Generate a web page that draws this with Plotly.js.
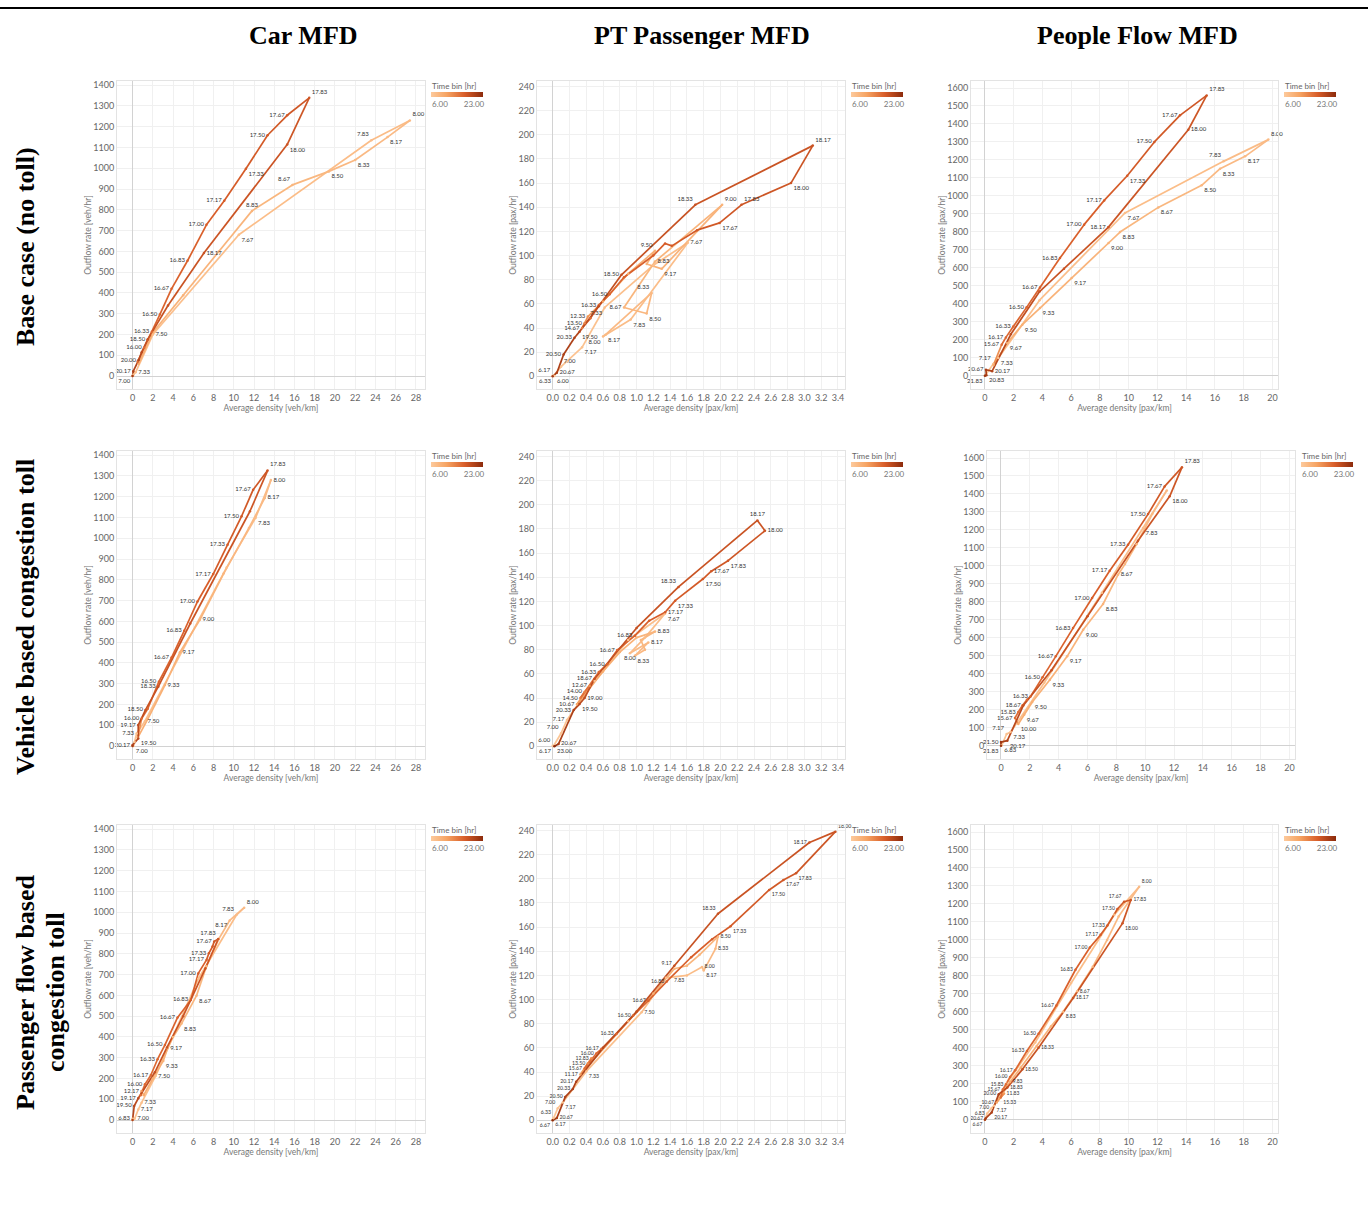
<!DOCTYPE html>
<html><head><meta charset="utf-8">
<script src="https://cdn.plot.ly/plotly-3.0.1.min.js"></script>
<style>html,body{margin:0;padding:0;background:#fff}#chart{width:1368px;height:1222px}</style>
</head><body><div id="chart"></div>
<script>
// ---------------- DATA ----------------
// Column / row titles
const colTitles = ['Car MFD', 'PT Passenger MFD', 'People Flow MFD'];
const rowTitles = [['Base case (no toll)'], ['Vehicle based congestion toll'], ['Passenger flow based', 'congestion toll']];

// Panel 1: Car MFD, base case
const carBaseT = [6.00, 7.00, 7.17, 7.33, 7.50, 7.67, 7.83, 8.00, 8.17, 8.33, 8.50, 8.67, 8.83, 9.00, 9.17, 9.50, 10.00, 15.67, 16.00, 16.17, 16.33, 16.50, 16.67, 16.83, 17.00, 17.17, 17.33, 17.50, 17.67, 17.83, 18.00, 18.17, 18.33, 18.50, 19.00, 20.00, 20.17, 21.00];
const carBaseX = [0, 0.02, 0.1, 0.3, 2.0, 10.5, 23.6, 27.4, 25.2, 22.0, 19.4, 15.8, 11.8, 8.5, 5.0, 2.0, 0.6, 0.5, 1.15, 1.5, 1.9, 2.7, 3.85, 5.43, 7.3, 9.06, 11.2, 13.34, 15.28, 17.46, 15.28, 7.05, 3.5, 1.5, 0.9, 0.6, 0.07, 0];
const carBaseY = [0, 2, 8, 18, 200, 680, 1135, 1230, 1150, 1040, 985, 920, 795, 598, 389, 210, 60, 70, 137, 175, 214, 297, 420, 555, 728, 844, 998, 1159, 1255, 1339, 1114, 592, 340, 177, 115, 77, 24, 0];
const carBaseLbl = ['7.00', '7.33', '7.50', '7.67', '7.83', '8.00', '8.17', '8.33', '8.50', '8.67', '8.83', '16.00', '16.33', '16.50', '16.67', '16.83', '17.00', '17.17', '17.33', '17.50', '17.67', '17.83', '18.00', '18.17', '18.50', '20.00', '20.17'];

// Panel 2: PT passenger MFD, base case
const ptBaseT = [6.00, 6.17, 6.33, 7.00, 7.17, 7.33, 7.50, 7.67, 7.83, 8.00, 8.17, 8.33, 8.50, 8.67, 8.83, 9.00, 9.17, 9.33, 9.50, 10.00, 11.00, 12.33, 13.50, 14.67, 16.00, 16.33, 16.50, 16.67, 17.00, 17.17, 17.33, 17.50, 17.67, 17.83, 18.00, 18.17, 18.33, 18.50, 19.00, 19.50, 20.33, 20.50, 20.67, 21.00];
const ptBaseX = [0.02, 0, 0.01, 0.10, 0.35, 0.62, 1.20, 1.61, 0.93, 0.60, 0.63, 1.18, 1.12, 0.85, 1.22, 2.02, 1.30, 1.12, 1.22, 0.90, 0.60, 0.42, 0.38, 0.35, 0.45, 0.55, 0.68, 0.85, 1.20, 1.34, 1.42, 1.72, 1.99, 2.25, 2.84, 3.10, 1.70, 0.82, 0.55, 0.32, 0.26, 0.13, 0.05, 0];
const ptBaseY = [0.3, 0.5, 0.2, 8, 24, 57, 92, 110.6, 47, 33, 34.5, 69, 52, 57, 95, 142, 89, 93, 104, 85, 62, 49.5, 44, 40, 48, 59, 68, 82, 100, 110, 108, 121, 127, 142, 160, 191, 142, 84, 58, 37, 32, 18, 3, 0];
const ptBaseLbl = ['6.00', '6.17', '6.33', '7.00', '7.17', '7.33', '7.67', '7.83', '8.00', '8.17', '8.33', '8.50', '8.67', '8.83', '9.00', '9.17', '9.50', '12.33', '13.50', '14.67', '16.33', '16.50', '17.67', '17.83', '18.00', '18.17', '18.33', '18.50', '19.50', '20.33', '20.50', '20.67'];

// Panel 3: People flow MFD, base case
const pplBaseT = [6.00, 7.17, 7.33, 7.50, 7.67, 7.83, 8.00, 8.17, 8.33, 8.50, 8.67, 8.83, 9.00, 9.17, 9.33, 9.50, 9.67, 10.00, 15.67, 16.17, 16.33, 16.50, 16.67, 16.83, 17.00, 17.17, 17.33, 17.50, 17.67, 17.83, 18.00, 18.17, 18.33, 18.50, 19.00, 20.17, 20.67, 20.83, 21.83];
const pplBaseX = [0, 0.58, 0.93, 3.8, 9.74, 16.6, 19.72, 18.1, 16.36, 15.08, 12.06, 9.4, 8.6, 6.03, 3.83, 2.6, 1.55, 0.6, 1.16, 1.46, 1.97, 2.9, 3.83, 5.22, 6.9, 8.3, 9.9, 11.79, 13.57, 15.43, 14.15, 8.58, 5.5, 3.8, 1.8, 0.5, 0.07, 0.1, 0];
const pplBaseY = [0, 65, 98, 420, 905, 1192, 1313, 1220, 1151, 1059, 936, 799, 738, 543, 376, 284, 182, 60, 172, 213, 274, 380, 491, 654, 840, 975, 1112, 1300, 1448, 1559, 1368, 825, 595, 468, 230, 25, 33, 3, 0];
const pplBaseLbl = ['7.17', '7.33', '7.67', '7.83', '8.00', '8.17', '8.33', '8.50', '8.67', '8.83', '9.00', '9.17', '9.33', '9.50', '9.67', '15.67', '16.17', '16.33', '16.50', '16.67', '16.83', '17.00', '17.17', '17.33', '17.50', '17.67', '17.83', '18.00', '18.17', '20.17', '20.67', '20.83', '21.83'];

// Panel 4: Car MFD, vehicle based toll
const carVehT = [6.00, 7.00, 7.17, 7.33, 7.50, 7.67, 7.83, 8.00, 8.17, 8.33, 8.67, 9.00, 9.17, 9.33, 9.67, 10.00, 16.00, 16.17, 16.50, 16.67, 16.83, 17.00, 17.17, 17.33, 17.50, 17.67, 17.83, 18.00, 18.17, 18.33, 18.50, 19.17, 19.50, 20.17, 21.00];
const carVehX = [0, 0.07, 0.2, 0.4, 1.22, 9.3, 12.15, 13.67, 13.07, 11.5, 9.0, 6.65, 4.68, 3.2, 1.5, 0.5, 0.9, 1.5, 2.6, 3.85, 5.1, 6.42, 7.97, 9.39, 10.77, 11.92, 13.34, 11.6, 5.7, 2.54, 1.28, 0.56, 0.56, 0, 0];
const carVehY = [0, 0, 20, 61, 120, 860, 1098, 1280, 1194, 1050, 830, 608, 452, 294, 130, 40, 133, 180, 310, 426, 555, 696, 828, 969, 1106, 1234, 1326, 1130, 590, 286, 174, 101, 37, 5, 0];
const carVehLbl = ['7.00', '7.33', '7.50', '7.83', '8.00', '8.17', '9.00', '9.17', '9.33', '16.00', '16.50', '16.67', '16.83', '17.00', '17.17', '17.33', '17.50', '17.67', '17.83', '18.33', '18.50', '19.17', '19.50', '20.17'];

// Panel 5: PT passenger MFD, vehicle based toll
const ptVehT = [6.00, 6.17, 7.00, 7.17, 7.33, 7.50, 7.67, 7.83, 8.00, 8.17, 8.33, 8.50, 8.67, 8.83, 9.00, 9.50, 10.00, 10.67, 12.67, 14.00, 14.50, 16.33, 16.50, 16.67, 16.83, 17.00, 17.17, 17.33, 17.50, 17.67, 17.83, 18.00, 18.17, 18.33, 18.50, 18.67, 19.00, 19.50, 20.33, 20.67, 23.00];
const ptVehX = [0, 0.01, 0.10, 0.17, 0.50, 0.90, 1.34, 1.10, 0.92, 1.14, 0.98, 1.10, 1.05, 1.22, 1.00, 0.80, 0.60, 0.29, 0.44, 0.38, 0.33, 0.55, 0.65, 0.77, 0.98, 1.15, 1.34, 1.46, 1.79, 1.89, 2.09, 2.53, 2.44, 1.50, 1.00, 0.50, 0.38, 0.32, 0.25, 0.07, 0.02];
const ptVehY = [0.5, 0.3, 10.8, 21.8, 54, 88, 110, 90, 77, 86, 75, 80, 88, 95, 90, 78, 62, 34.8, 50, 45, 40, 61.5, 68, 79.7, 91.6, 104, 111, 120.6, 138.5, 145, 153.7, 178.5, 187, 132, 98, 56, 40, 35, 30, 2, 0];
const ptVehLbl = ['6.00', '6.17', '7.00', '7.17', '7.67', '8.00', '8.17', '8.33', '8.83', '10.67', '12.67', '14.00', '14.50', '16.33', '16.50', '16.67', '16.83', '17.17', '17.33', '17.50', '17.67', '17.83', '18.00', '18.17', '18.33', '18.67', '19.00', '19.50', '20.33', '20.67', '23.00'];

// Panel 6: People flow MFD, vehicle based toll
const pplVehT = [6.00, 6.83, 7.17, 7.33, 7.50, 7.67, 7.83, 8.00, 8.17, 8.33, 8.50, 8.67, 8.83, 9.00, 9.17, 9.33, 9.50, 9.67, 10.00, 15.67, 15.83, 16.00, 16.17, 16.33, 16.50, 16.67, 16.83, 17.00, 17.17, 17.33, 17.50, 17.67, 17.83, 18.00, 18.17, 18.33, 18.50, 18.67, 20.17, 21.50, 21.83];
const pplVehX = [0, 0.05, 0.39, 0.67, 3.0, 7.0, 9.85, 11.5, 10.5, 9.4, 8.6, 8.12, 7.08, 5.7, 4.59, 3.39, 2.17, 1.61, 1.2, 0.97, 1.2, 1.5, 1.8, 2.05, 2.88, 3.8, 5.0, 6.32, 7.54, 8.81, 10.2, 11.35, 12.55, 11.7, 9.5, 6.0, 3.5, 1.55, 0.44, 0, 0];
const pplVehY = [0, 2, 65, 76, 350, 850, 1211, 1420, 1290, 1120, 1010, 951, 788, 645, 497, 367, 243, 172, 120, 154, 187, 225, 255, 274, 380, 497, 654, 821, 973, 1118, 1288, 1442, 1548, 1387, 1140, 720, 420, 224, 28, 20, 0];
const pplVehLbl = ['6.83', '7.17', '7.33', '7.83', '8.67', '8.83', '9.00', '9.17', '9.33', '9.50', '9.67', '10.00', '15.67', '15.83', '16.33', '16.50', '16.67', '16.83', '17.00', '17.17', '17.33', '17.50', '17.67', '17.83', '18.00', '18.67', '20.17', '21.50', '21.83'];

// Panel 7: Car MFD, passenger flow based toll
const carPaxT = [6.00, 6.83, 7.00, 7.17, 7.33, 7.50, 7.67, 7.83, 8.00, 8.17, 8.33, 8.50, 8.67, 8.83, 9.00, 9.17, 9.33, 9.50, 10.00, 12.17, 15.67, 16.00, 16.17, 16.33, 16.50, 16.67, 16.83, 17.00, 17.17, 17.33, 17.50, 17.67, 17.83, 18.00, 18.17, 18.33, 18.50, 19.17, 19.50, 20.00];
const carPaxX = [0, 0, 0.2, 0.56, 0.89, 2.27, 6.5, 10.28, 11.03, 9.6, 8.5, 7.3, 6.32, 4.84, 4.0, 3.46, 3.03, 2.0, 1.1, 0.89, 0.8, 1.22, 1.81, 2.47, 3.2, 4.45, 5.76, 6.49, 7.31, 7.54, 7.9, 8.07, 8.47, 7.2, 5.0, 3.4, 2.2, 0.56, 0.16, 0];
const carPaxY = [0, 6, 6, 51, 84, 212, 680, 988, 1022, 961, 870, 740, 599, 465, 400, 346, 285, 200, 120, 140, 120, 172, 217, 293, 362, 494, 578, 706, 771, 803, 835, 860, 872, 730, 500, 350, 230, 105, 68, 0];
const carPaxLbl = ['6.83', '7.00', '7.17', '7.33', '7.50', '7.83', '8.00', '8.17', '8.67', '8.83', '9.17', '9.33', '12.17', '16.00', '16.17', '16.33', '16.50', '16.67', '16.83', '17.00', '17.17', '17.33', '17.67', '17.83', '19.17', '19.50'];

// Panel 8: PT passenger MFD, passenger flow based toll
const ptPaxT = [6.17, 6.33, 6.67, 7.00, 7.17, 7.33, 7.50, 7.67, 7.83, 8.00, 8.17, 8.33, 8.50, 8.67, 8.83, 9.17, 9.50, 10.00, 11.17, 12.83, 13.50, 15.67, 16.00, 16.17, 16.33, 16.50, 16.67, 16.83, 17.00, 17.17, 17.33, 17.50, 17.67, 17.83, 18.00, 18.17, 18.33, 18.50, 19.00, 19.50, 20.17, 20.33, 20.50, 20.67, 23.00];
const ptPaxX = [0, 0.01, 0, 0.06, 0.12, 0.40, 1.06, 1.35, 1.60, 1.78, 1.80, 1.94, 1.97, 1.75, 1.60, 1.45, 1.20, 0.90, 0.33, 0.46, 0.42, 0.38, 0.52, 0.58, 0.76, 0.96, 1.14, 1.36, 1.65, 1.90, 2.12, 2.58, 2.75, 2.90, 3.37, 3.06, 1.97, 1.45, 1.00, 0.60, 0.28, 0.24, 0.15, 0.05, 0];
const ptPaxY = [0.5, 2, 0, 10, 14.7, 40.5, 89.5, 118, 120, 127, 124, 142, 152, 137, 128, 125.5, 105, 82, 38, 51.3, 47, 43, 55.4, 59, 71.5, 86.7, 99, 115, 135, 150, 160.7, 190.7, 199, 204.5, 239, 230, 171, 128, 90, 60, 32, 26, 19.4, 2, 0];
const ptPaxLbl = ['6.17', '6.33', '6.67', '7.00', '7.17', '7.33', '7.50', '7.83', '8.00', '8.17', '8.33', '8.50', '9.17', '11.17', '12.83', '13.50', '15.67', '16.00', '16.17', '16.33', '16.50', '16.67', '16.83', '17.33', '17.50', '17.67', '17.83', '18.00', '18.17', '18.33', '20.17', '20.33', '20.50', '20.67'];

// Panel 9: People flow MFD, passenger flow based toll
const pplPaxT = [6.67, 6.83, 7.00, 7.17, 7.33, 7.50, 7.67, 7.83, 8.00, 8.17, 8.33, 8.50, 8.67, 8.83, 9.00, 9.17, 9.50, 9.83, 10.67, 11.83, 15.33, 15.67, 15.83, 16.00, 16.17, 16.33, 16.50, 16.67, 16.83, 17.00, 17.17, 17.33, 17.50, 17.67, 17.83, 18.00, 18.17, 18.33, 18.50, 18.83, 20.00, 20.17, 20.67, 21.00];
const pplPaxX = [0, 0.16, 0.47, 0.63, 1.5, 3.5, 6.0, 9.0, 10.73, 9.3, 8.5, 7.5, 6.42, 5.44, 4.6, 3.6, 2.5, 1.75, 0.82, 1.33, 1.10, 1.24, 1.47, 1.75, 2.10, 2.92, 3.73, 4.97, 6.30, 7.30, 8.05, 8.52, 9.22, 9.68, 10.15, 9.57, 6.14, 3.73, 2.61, 1.56, 0.96, 0.47, 0.05, 0];
const pplPaxY = [0, 35, 65, 77.5, 200, 430, 760, 1140, 1295, 1130, 1000, 850, 714, 600, 520, 410, 290, 210, 96, 146, 124, 168, 197, 238, 275, 382, 478, 635, 834, 958, 1028, 1080, 1172, 1212, 1222, 1092, 677, 400, 280, 179, 142, 40.6, 7, 0];
const pplPaxLbl = ['6.67', '6.83', '7.00', '7.17', '8.00', '8.67', '8.83', '9.83', '10.67', '11.83', '15.33', '15.67', '15.83', '16.00', '16.17', '16.33', '16.50', '16.67', '16.83', '17.00', '17.17', '17.33', '17.50', '17.67', '17.83', '18.00', '18.17', '18.33', '18.50', '18.83', '20.00', '20.17', '20.67'];

// Colour bar labels
const timeMin = 6, timeMax = 23;
const timeTickText = ['6.00', '23.00'];
const timeTitle = 'Time bin [hr]';

// ---------------- STYLE ----------------
const SCALE = [[0, '#fdca9c'], [0.3, '#f6a463'], [0.65, '#d85d29'], [1, '#8c2b0c']];
// label placement (default: left of the point)
const SIDE = {
  carBase: {'7.00':'BL','7.33':'R','7.50':'R','7.67':'BR','7.83':'TL','8.00':'TR','8.17':'BR','8.33':'BR','8.50':'BR','8.67':'TL','8.83':'T','17.33':'BR','17.83':'TR','18.00':'BR','18.17':'R'},
  ptBase: {'6.00':'BR','6.17':'TL','6.33':'BL','7.00':'TR','7.17':'BR','7.33':'BL','7.67':'R','7.83':'BR','8.00':'BL','8.17':'BR','8.33':'TL','8.50':'BR','8.83':'R','9.00':'TR','9.17':'BR','9.50':'TL','17.67':'BR','17.83':'TR','18.00':'BR','18.17':'TR','18.33':'TL','19.50':'BR','20.67':'R'},
  pplBase: {'7.17':'TL','7.33':'BR','7.67':'BR','7.83':'TL','8.00':'TR','8.17':'BR','8.33':'BR','8.50':'BR','8.67':'BR','8.83':'BR','9.00':'BR','9.17':'BR','9.33':'BR','9.50':'BR','9.67':'BR','17.33':'BR','17.83':'TR','18.00':'R','20.17':'R','20.67':'L','20.83':'BR','21.83':'BL'},
  carVeh: {'7.00':'BR','7.50':'R','7.83':'BR','8.00':'R','8.17':'R','9.00':'R','9.17':'R','9.33':'R','17.83':'TR','19.50':'BR'},
  ptVeh: {'6.00':'TL','6.17':'BL','7.00':'TL','7.67':'BR','8.00':'B','8.17':'R','8.33':'BR','8.83':'R','17.17':'R','17.33':'BR','17.50':'BR','17.67':'R','17.83':'BR','18.00':'R','18.17':'T','18.33':'TL','19.00':'R','19.50':'BR','20.67':'R','23.00':'BR'},
  pplVeh: {'6.83':'BR','7.17':'TL','7.33':'BR','7.83':'BR','8.67':'R','8.83':'BR','9.00':'BR','9.17':'BR','9.33':'BR','9.50':'BR','9.67':'BR','10.00':'BR','17.83':'TR','18.00':'BR','20.17':'BR','21.83':'BL'},
  carPax: {'7.00':'R','7.17':'R','7.33':'R','7.50':'R','7.83':'TL','8.00':'TR','8.17':'BL','8.67':'BR','8.83':'BR','9.17':'R','9.33':'BR','17.83':'TL'},
  ptPax: {'6.17':'BR','6.33':'TL','6.67':'BL','7.00':'TL','7.17':'BR','7.33':'BR','7.50':'R','7.83':'BL','8.00':'R','8.17':'BR','8.33':'R','8.50':'R','9.17':'TL','17.33':'BR','17.50':'BR','17.67':'BR','17.83':'BR','18.00':'TR','18.33':'TL','20.67':'R'},
  pplPax: {'6.67':'BL','7.17':'BR','8.00':'TR','8.67':'R','8.83':'BR','9.83':'R','11.83':'R','15.33':'BR','17.67':'TL','17.83':'R','18.00':'BR','18.17':'R','18.33':'R','18.50':'R','18.83':'R','20.17':'BR'}
};
const POS = {L:'middle left', R:'middle right', TL:'top left', TR:'top right', BL:'bottom left', BR:'bottom right', T:'top center', B:'bottom center'};

const KIND = {
  car: {xr:[-1.54, 28.9], xd:2, xf:'', yr:[-62, 1420], yd:100, xt:'Average density [veh/km]', yt:'Outflow rate [veh/hr]'},
  pt:  {xr:[-0.187, 3.484], xd:0.2, xf:'.1f', yr:[-10.5, 244.5], yd:20, xt:'Average density [pax/km]', yt:'Outflow rate [pax/hr]'},
  ppl: {xr:[-0.97, 20.39], xd:2, xf:'', yr:[-74, 1639], yd:100, xt:'Average density [pax/km]', yt:'Outflow rate [pax/hr]'}
};

const W = 1368, H = 1222;
const px = v => v / W, py = v => 1 - v / H;
const ROWS = [[81, 389], [451, 759], [825, 1133]];
const COLS = [[117, 425], [537, 845], [971, 1278]];

const panels = [
  {key:'carBase', T:carBaseT, X:carBaseX, Y:carBaseY, L:carBaseLbl, kind:'car', r:0, c:0},
  {key:'ptBase',  T:ptBaseT,  X:ptBaseX,  Y:ptBaseY,  L:ptBaseLbl,  kind:'pt',  r:0, c:1},
  {key:'pplBase', T:pplBaseT, X:pplBaseX, Y:pplBaseY, L:pplBaseLbl, kind:'ppl', r:0, c:2},
  {key:'carVeh',  T:carVehT,  X:carVehX,  Y:carVehY,  L:carVehLbl,  kind:'car', r:1, c:0},
  {key:'ptVeh',   T:ptVehT,   X:ptVehX,   Y:ptVehY,   L:ptVehLbl,   kind:'pt',  r:1, c:1},
  {key:'pplVeh',  T:pplVehT,  X:pplVehX,  Y:pplVehY,  L:pplVehLbl,  kind:'ppl', r:1, c:2, cols:[987, 1295]},
  {key:'carPax',  T:carPaxT,  X:carPaxX,  Y:carPaxY,  L:carPaxLbl,  kind:'car', r:2, c:0},
  {key:'ptPax',   T:ptPaxT,   X:ptPaxX,   Y:ptPaxY,   L:ptPaxLbl,   kind:'pt',  r:2, c:1, fs:5.2},
  {key:'pplPax',  T:pplPaxT,  X:pplPaxX,  Y:pplPaxY,  L:pplPaxLbl,  kind:'ppl', r:2, c:2, fs:5}
];

function hex2rgb(h) { return [1, 3, 5].map(i => parseInt(h.slice(i, i + 2), 16)); }
function colorAt(t) {
  const f = Math.max(0, Math.min(1, (t - timeMin) / (timeMax - timeMin)));
  for (let i = 1; i < SCALE.length; i++) {
    if (f <= SCALE[i][0]) {
      const a = SCALE[i - 1], b = SCALE[i];
      const u = (f - a[0]) / (b[0] - a[0]);
      const ca = hex2rgb(a[1]), cb = hex2rgb(b[1]);
      return 'rgb(' + ca.map((v, j) => Math.round(v + (cb[j] - v) * u)).join(',') + ')';
    }
  }
  return SCALE[SCALE.length - 1][1];
}

const traces = [];
const layout = {
  width: W, height: H, margin: {l:0, r:0, t:0, b:0},
  paper_bgcolor: '#fff', plot_bgcolor: '#fff', showlegend: false,
  font: {family: 'Lato, "Open Sans", sans-serif'},
  annotations: [], shapes: []
};

panels.forEach((p, i) => {
  const s = i === 0 ? '' : String(i + 1);
  const k = KIND[p.kind];
  const cx = p.cols || COLS[p.c];
  const ry = ROWS[p.r];
  const xa = 'x' + s, ya = 'y' + s;
  const axBase = {
    showgrid: true, gridcolor: '#f0f0f0', gridwidth: 1,
    zeroline: true, zerolinecolor: '#d2d2d2', zerolinewidth: 1,
    showline: true, mirror: true, linecolor: '#e3e3e3', linewidth: 1,
    ticks: '', fixedrange: true,
    tickfont: {family: 'Lato, sans-serif', size: 9, color: '#666'}
  };
  layout['xaxis' + s] = Object.assign({}, axBase, {
    domain: [px(cx[0]), px(cx[1])], range: k.xr, tick0: 0, dtick: k.xd, tickformat: k.xf,
    anchor: ya, title: {text: k.xt, font: {family: 'Lato, sans-serif', size: 8.5, color: '#777'}, standoff: 3}
  });
  layout['yaxis' + s] = Object.assign({}, axBase, {
    domain: [py(ry[1]), py(ry[0])], range: k.yr, tick0: 0, dtick: k.yd,
    anchor: xa, title: {text: k.yt, font: {family: 'Lato, sans-serif', size: 8.5, color: '#777'}, standoff: 0}
  });

  // line segments coloured by time bin
  for (let j = 0; j < p.T.length - 1; j++) {
    traces.push({
      type: 'scatter', mode: 'lines', xaxis: xa, yaxis: ya, hoverinfo: 'skip',
      x: [p.X[j], p.X[j + 1]], y: [p.Y[j], p.Y[j + 1]],
      line: {color: colorAt((p.T[j] + p.T[j + 1]) / 2), width: 1.7}
    });
  }
  // points + time labels
  const side = SIDE[p.key];
  traces.push({
    type: 'scatter', mode: 'markers+text', xaxis: xa, yaxis: ya, cliponaxis: false,
    x: p.X, y: p.Y,
    text: p.T.map(t => p.L.includes(t.toFixed(2)) ? t.toFixed(2) : ''),
    textposition: p.T.map(t => POS[side[t.toFixed(2)] || 'L']),
    textfont: {family: 'Lato, sans-serif', size: p.fs || 6, color: '#333'},
    marker: {size: 2.5, color: p.T.map(colorAt)},
    hovertemplate: '%{text}<extra></extra>'
  });
  // colour legend "Time bin [hr]"
  traces.push({
    type: 'scatter', mode: 'markers', xaxis: xa, yaxis: ya, hoverinfo: 'skip',
    x: [k.xr[0] - 100, k.xr[0] - 100], y: [k.yr[0] - 1000, k.yr[0] - 1000],
    marker: {
      color: [timeMin, timeMax], cmin: 1.5, cmax: 27.5,
      colorscale: SCALE, showscale: true, opacity: 0,
      colorbar: {
        orientation: 'h', thickness: 5, len: 52, lenmode: 'pixels',
        x: px(cx[1] + 6), xanchor: 'left', y: py(ry[0] + 11), yanchor: 'top',
        xpad: 0, ypad: 0, outlinewidth: 0, ticks: '',
        tickvals: [timeMin, timeMax], ticktext: timeTickText,
        tickfont: {family: 'Lato, sans-serif', size: 8, color: '#777'}
      }
    }
  });
  layout.annotations.push({
    text: timeTitle, xref: 'paper', yref: 'paper', x: px(cx[1] + 5), y: py(ry[0] + 5),
    xanchor: 'left', yanchor: 'middle', showarrow: false,
    font: {family: 'Lato, sans-serif', size: 8, color: '#666'}
  });
});

// headings
const colCenters = [303, 702, 1137];
colTitles.forEach((t, i) => layout.annotations.push({
  text: '<b>' + t + '</b>', xref: 'paper', yref: 'paper', x: px(colCenters[i]), y: py(36),
  xanchor: 'center', yanchor: 'middle', showarrow: false,
  font: {family: '"Liberation Serif", "Times New Roman", serif', size: 26, color: '#000'}
}));
const rowCenters = [247, 617, 992];
rowTitles.forEach((lines, i) => lines.forEach((t, j) => layout.annotations.push({
  text: '<b>' + t + '</b>', xref: 'paper', yref: 'paper', x: px(25 + 30 * j), y: py(rowCenters[i]),
  xanchor: 'center', yanchor: 'middle', showarrow: false, textangle: -90,
  font: {family: '"Liberation Serif", "Times New Roman", serif', size: 26, color: '#000'}
})));
layout.shapes.push({type: 'line', xref: 'paper', yref: 'paper', x0: 0, x1: 1, y0: py(8), y1: py(8), line: {color: '#000', width: 2}});

Plotly.newPlot('chart', traces, layout, {displayModeBar: false, staticPlot: true});
</script></body></html>
